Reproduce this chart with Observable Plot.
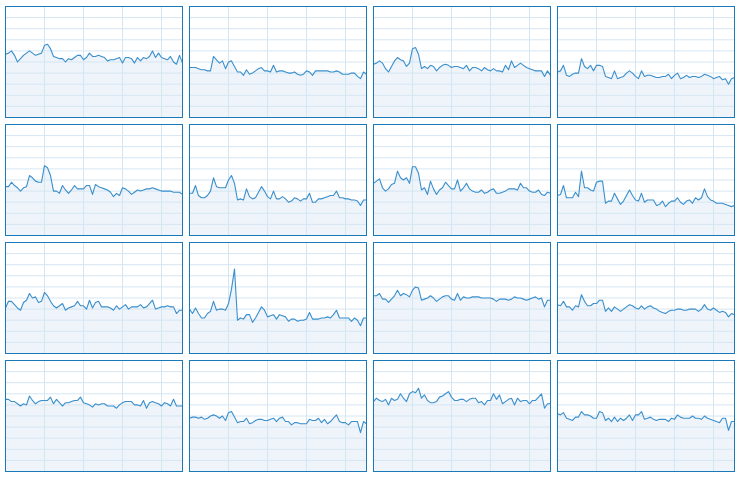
<!DOCTYPE html>
<html>
<head>
<meta charset="utf-8">
<script src="https://cdn.jsdelivr.net/npm/d3@7"></script>
<script src="https://cdn.jsdelivr.net/npm/@observablehq/plot@0.6"></script>
<style>
  html, body { margin: 0; padding: 0; background: #fff; }
  #chart { width: 740px; height: 480px; }
</style>
</head>
<body>
<div id="chart"></div>
<script>
// Panel series (row-major, 4 x 4 grid), 60 samples each
const s1  = [57,58,60,56,50,53,56,58,60,58,56,57,58,65,66,62,55,54,53,53,50,53,52,54,56,56,52,54,58,55,55,56,55,54,51,52,52,53,54,49,54,54,53,49,54,51,54,53,55,60,54,58,54,53,52,55,50,48,56,49];
const s2  = [45,45,45,44,43,43,42,42,55,52,49,51,44,50,51,46,41,41,38,43,39,40,42,44,45,42,42,41,47,41,42,42,41,40,40,41,39,38,39,42,41,38,42,42,42,42,42,41,41,42,41,39,39,39,40,40,37,35,41,39];
const s3  = [48,49,51,49,44,41,46,51,54,52,51,46,49,62,63,57,44,46,44,47,46,42,45,47,48,47,45,46,46,45,44,47,42,45,45,44,42,45,43,42,44,42,42,41,47,43,51,45,47,49,47,45,44,43,42,42,42,37,42,38];
const s4  = [41,42,47,38,37,39,40,40,53,46,44,47,42,47,47,46,37,36,35,42,35,36,37,40,42,40,37,35,42,37,38,38,37,36,36,37,37,39,35,38,40,35,36,38,36,37,37,36,37,39,38,37,35,36,37,34,35,30,35,36];
const s5  = [44,44,48,45,43,40,43,44,54,52,49,48,48,63,61,54,40,40,38,45,41,38,41,45,42,42,42,45,45,37,46,44,43,42,41,39,35,38,36,43,42,40,37,39,41,40,41,42,42,43,42,41,40,40,40,40,39,39,39,37];
const s6  = [38,38,45,36,34,34,36,40,52,44,43,43,43,50,54,47,32,33,32,42,35,33,34,39,44,40,35,33,40,33,33,35,33,30,31,34,33,31,33,33,38,30,30,33,33,34,35,36,36,40,34,34,33,33,32,32,31,27,32,32];
const s7  = [47,49,51,43,40,42,46,47,58,52,50,52,47,62,62,56,41,43,37,49,42,37,41,43,48,45,42,42,50,40,43,47,42,40,39,39,41,38,39,41,42,38,38,39,40,42,42,42,41,47,43,43,40,39,39,41,37,36,39,38];
const s8  = [36,37,45,34,34,34,39,35,58,43,43,41,40,48,49,49,29,31,31,38,33,28,31,36,41,36,32,31,38,30,32,32,32,27,28,31,26,29,31,31,34,30,28,31,32,29,34,32,34,42,35,32,31,29,29,29,28,27,26,27];
const s9  = [41,47,47,44,41,39,46,48,54,50,51,46,47,55,52,47,43,41,43,45,39,41,42,43,47,43,43,40,48,41,46,47,42,42,42,41,39,43,40,42,44,40,42,42,42,44,41,42,45,48,40,41,42,42,43,42,42,36,39,39];
const s10 = [40,36,41,36,32,32,36,38,47,39,40,40,39,45,58,76,30,32,31,35,35,28,32,37,42,39,33,34,35,31,35,34,33,29,31,31,29,30,30,31,37,31,31,31,32,32,33,32,35,39,32,32,32,32,29,32,30,25,32,32];
const s11 = [52,52,54,49,49,46,49,52,57,52,54,53,51,57,60,59,48,49,50,52,50,47,49,51,52,52,49,48,54,48,51,50,50,51,51,51,50,50,50,50,49,47,49,49,49,48,49,51,50,50,49,48,49,50,51,49,50,42,48,48];
const s12 = [44,43,47,42,42,39,43,42,53,47,43,43,45,45,48,48,38,41,38,42,40,38,40,42,44,43,41,40,43,40,42,43,41,40,38,37,36,38,39,39,40,40,39,39,40,40,40,38,40,44,40,39,41,39,37,38,37,33,36,35];
const s13 = [65,65,63,63,61,59,61,60,68,64,61,63,64,64,64,67,61,65,62,59,62,62,63,64,64,67,62,61,60,58,61,60,61,61,59,59,59,57,60,62,63,63,63,60,60,59,64,57,62,63,62,61,59,62,61,59,65,59,59,59];
const s14 = [48,49,49,48,49,47,48,50,51,50,48,50,46,53,54,49,44,45,45,48,43,44,46,47,47,46,46,47,48,45,48,49,45,45,42,44,44,43,43,43,47,46,46,48,44,47,43,45,48,51,45,44,44,42,45,45,45,35,45,43];
const s15 = [63,66,64,63,65,60,66,64,65,70,66,63,70,72,71,75,66,69,64,62,62,63,67,68,70,72,67,64,64,65,65,63,65,66,66,62,63,60,64,64,70,65,69,61,63,65,66,60,66,63,64,64,61,64,64,67,70,57,61,61];
const s16 = [52,51,53,48,47,46,49,49,54,51,51,50,48,48,54,53,46,48,45,49,45,48,46,48,51,46,51,51,54,47,48,49,47,46,47,47,47,45,48,47,51,49,48,48,48,50,48,48,47,50,48,47,46,45,44,48,48,37,45,45];

const panels = [s1, s2, s3, s4, s5, s6, s7, s8, s9, s10, s11, s12, s13, s14, s15, s16];
const xTicks = [13, 26, 39, 52];
const yTicks = [10, 20, 30, 40, 50, 60, 70, 80, 90];

const data = panels.flatMap((vals, p) =>
  vals.map((v, i) => ({ col: p % 4, row: Math.floor(p / 4), i, v }))
);

const chart = Plot.plot({
  width: 740,
  height: 480,
  marginLeft: 5,
  marginRight: 6,
  marginTop: 6,
  marginBottom: 9,
  style: { background: "#fff" },
  x: { domain: [0, 59], axis: null },
  y: { domain: [0, 100], axis: null },
  fx: { axis: null, paddingInner: 0.04, paddingOuter: 0 },
  fy: { axis: null, paddingInner: 0.062, paddingOuter: 0 },
  marks: [
    Plot.areaY(data, { x: "i", y: "v", fx: "col", fy: "row", fill: "#eef4fa" }),
    Plot.ruleX(xTicks, { stroke: "#d5e6f3", strokeWidth: 1 }),
    Plot.ruleY(yTicks, { stroke: "#d5e6f3", strokeWidth: 1 }),
    Plot.lineY(data, { x: "i", y: "v", fx: "col", fy: "row", stroke: "#3a8fcc", strokeWidth: 1.1 }),
    Plot.frame({ stroke: "#1a7ab8", strokeWidth: 1 })
  ]
});

document.getElementById("chart").appendChild(chart);
</script>
</body>
</html>
